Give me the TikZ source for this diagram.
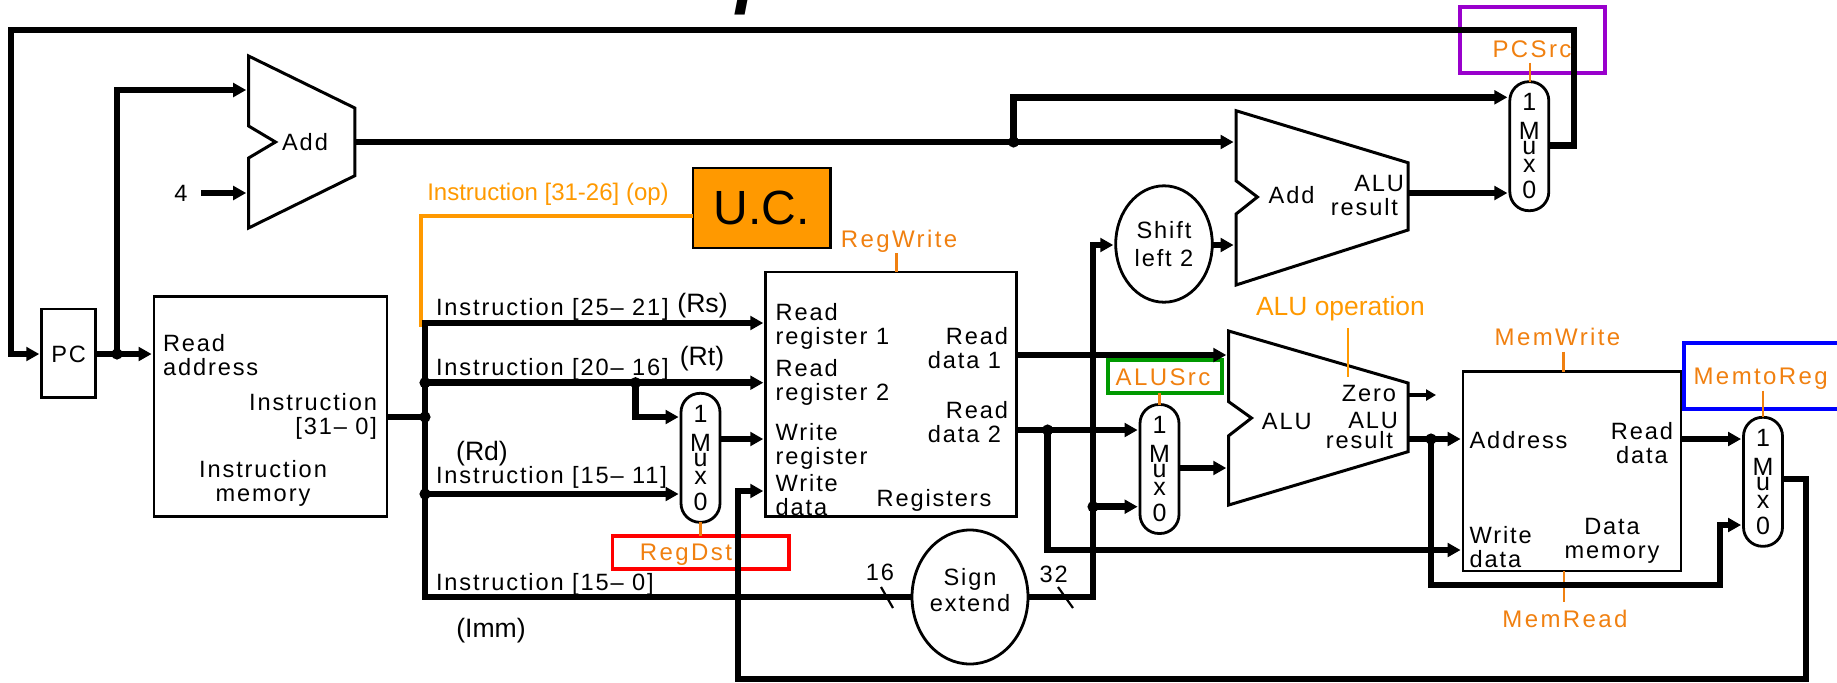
\documentclass[tikz,border=0pt]{standalone}
\usepackage{fontspec}
\setmainfont{Liberation Sans}
\newfontfamily\lab[LetterSpace=8]{Liberation Sans}
\newfontfamily\ctl[LetterSpace=10]{Liberation Sans}
\usetikzlibrary{arrows.meta,shapes.geometric}
\definecolor{ctrlor}{RGB}{240,128,16}
\definecolor{lightor}{RGB}{255,153,0}
\definecolor{purp}{RGB}{153,0,204}
\definecolor{grn}{RGB}{0,153,0}
\tikzset{
  x=0.5pt,y=-0.5pt,
  bx/.style 2 args={minimum width=#1*0.5pt,minimum height=#2*0.5pt},
  box/.style={draw=black,line width=1.4pt,inner sep=0pt,outer sep=0pt,rectangle},
  muxbox/.style={draw=black,line width=1.4pt,inner sep=0pt,outer sep=0pt,rectangle,rounded corners=9.5pt,
     minimum width=19.5pt,minimum height=64.5pt,align=center,font=\fontsize{12.5}{12}\selectfont},
  oval/.style={draw=black,line width=1.4pt,inner sep=0pt,outer sep=0pt,ellipse,align=center,font=\lab\fontsize{11.8}{13}\selectfont},
  trap/.style={draw=black,line width=1.5pt,line join=miter},
  bus/.style={draw=black,line width=3.3pt,line join=miter},
  arr/.style={bus,-{Triangle[length=6.5pt,width=6.8pt]},shorten >=1.2pt},
  thinarr/.style={draw=black,line width=1.7pt,-{Triangle[length=5pt,width=5.5pt]}},
  dot/.style={circle,fill=black,inner sep=0pt,minimum size=5.6pt,outer sep=0pt},
  slash/.style={draw=black,line width=1.1pt},
  txt/.style={inner sep=0pt,outer sep=0pt,font=\lab\fontsize{11.8}{12}\selectfont,align=left},
  one/.style={txt,text height=8.4pt,text depth=0pt},
  rawt/.style={inner sep=0pt,outer sep=0pt,text height=9.5pt,text depth=0pt,font=\fontsize{13.3}{14}\selectfont},
  ctltxt/.style={inner sep=0pt,outer sep=0pt,text height=8.6pt,text depth=0pt,text=ctrlor,font=\ctl\fontsize{12}{12}\selectfont},
  ltxt/.style={inner sep=0pt,outer sep=0pt,text height=8.6pt,text depth=0pt,text=lightor,font=\fontsize{12}{12}\selectfont},
  ctrlline/.style={draw=ctrlor,line width=1.3pt},
  ltline/.style={draw=lightor,line width=1.7pt},
  hilite/.style={draw=#1,line width=1.9pt,inner sep=0pt,outer sep=0pt,rectangle},
}
\begin{document}
\begin{tikzpicture}
\useasboundingbox (0,0) rectangle (1837,682);
% title, cut by the top edge
\node[inner sep=0pt,anchor=base west,font=\fontsize{37.5}{40}\selectfont\bfseries\itshape] (title) at (574,-0.5) {Datapath de MIPS};
% coloured highlight frames
\node[hilite=purp,bx={145}{65.7}] (fpc) at (1532.5,39.8) {};
\node[hilite=grn,bx={113.6}{33}] (falu) at (1164.8,376.5) {};
\node[hilite=red,bx={176.5}{33.3}] (freg) at (700.7,552.3) {};
\node[hilite=blue,bx={180}{66}] (fmem) at (1774,376) {};
% boxes
\node[box,bx={54}{88.7}] (pc) at (68.7,353.3) {};
\node[box,bx={233}{220}] (imem) at (270.5,406.8) {};
\node[box,fill=lightor,bx={137.6}{80},font=\fontsize{24}{24}\selectfont] (uc) at (761.8,208) {U.C.};
\node[box,bx={251}{244.7}] (regs) at (891.2,394.3) {};
\node[box,bx={218}{199.3}] (dmem) at (1572,471.3) {};
% adders and ALU
\draw[trap] (248.6,56) -- (354.8,108) -- (354.8,175.7) -- (248.6,228) -- (248.6,158) -- (275.5,142) -- (248.6,126) -- cycle;
\draw[trap] (1236,110.7) -- (1408,162.7) -- (1408,230) -- (1236,285) -- (1236,214) -- (1257.4,197) -- (1236,180.7) -- cycle;
\draw[trap] (1228.7,331) -- (1408,383) -- (1408,451.7) -- (1228.7,505) -- (1228.7,435.7) -- (1251.5,418) -- (1228.7,401.7) -- cycle;
\coordinate (a1up) at (248.6,90);
\coordinate (a1lo) at (248.6,193);
\coordinate (a1out) at (354.8,142);
\coordinate (a2up) at (1236,142);
\coordinate (a2lo) at (1236,245);
\coordinate (a2out) at (1408,193);
\coordinate (alu1) at (1228.7,355);
\coordinate (alu2) at (1228.7,468);
\coordinate (aluz) at (1408,395);
\coordinate (alur) at (1408,439);
% ovals
\node[oval,minimum width=58pt,minimum height=67pt] (sign) at (970,597) {};
\node[oval,minimum width=48.3pt,minimum height=58.2pt] (shift) at (1164,244) {Shift\\[1pt]left 2};
% multiplexers
\def\muxtext{1\\[2.5pt]M\\[-4.3pt]u\\[-3pt]x\\[0.9pt]0}
\node[muxbox] (ma) at (700.5,457.8) {\muxtext};
\node[muxbox] (mb) at (1159.5,469) {\muxtext};
\node[muxbox] (mc) at (1529.3,146.2) {\muxtext};
\node[muxbox] (md) at (1763,481.8) {\muxtext};
% junctions
\node[dot] (jpc) at (117,354) {};
\node[dot] (j20) at (425,382.7) {};
\node[dot] (j31) at (425,417) {};
\node[dot] (j15) at (425,494) {};
\node[dot] (jrt) at (635.5,382.7) {};
\node[dot] (jadd) at (1013.6,142) {};
\node[dot] (jrd2) at (1047.6,430) {};
\node[dot] (jext) at (1093,506.7) {};
\node[dot] (jres) at (1431,439) {};
% way points
\coordinate (jtop) at (425,323);
\coordinate (jimm) at (425,597);
\coordinate (rtb) at (635.5,417);
\coordinate (upadd) at (1013.6,97.3);
\coordinate (fb1) at (1574,145.7);
\coordinate (fb2) at (1574,30);
\coordinate (fb3) at (11,30);
\coordinate (fb4) at (11,354);
\coordinate (p4a) at (117,90);
\coordinate (fouro) at (201,193);
\coordinate (wb1) at (1806,479);
\coordinate (wb2) at (1806,679);
\coordinate (wb3) at (738,679);
\coordinate (wb4) at (738,491);
\coordinate (ext1) at (1093,597);
\coordinate (ext2) at (1093,245);
\coordinate (rd2a) at (1047.6,550);
\coordinate (res1) at (1431,585);
\coordinate (res2) at (1720,585);
\coordinate (res3) at (1720,525);
\coordinate (opb) at (421,327);
\coordinate (opc) at (421,216);
\coordinate (wr1) at (896.7,253);
\coordinate (mw1) at (1563.5,351.7);
\coordinate (mr1) at (1564,601.7);
\coordinate (aop1) at (1348,328);
\coordinate (aop2) at (1348,376.7);
\coordinate (pcs1) at (1530,62.7);
\coordinate (m2r1) at (1763,390.7);
\coordinate (s16a) at (881,587);
\coordinate (s16b) at (893,608);
\coordinate (s32a) at (1058,587);
\coordinate (s32b) at (1073,608);
\coordinate (mawr) at (720,439);
% control lines
\draw[ltline] (uc.west |- opc) -- (opc) -- (opb);
\draw[ctrlline] (wr1) -- (wr1 |- regs.north);
\draw[ctrlline] (mw1) -- (mw1 |- dmem.north);
\draw[ctrlline] (mr1) -- (mr1 |- dmem.south);
\draw[ltline,line width=1pt] (aop1) -- (aop2);
\draw[ctrlline] (pcs1) -- (pcs1 |- mc.north);
\draw[ctrlline] (falu.south -| mb.north) -- (mb.north);
\draw[ctrlline] (ma.south) -- (ma.south |- freg.north);
\draw[ctrlline] (m2r1) -- (md.north);
% data connectors
\draw[arr] (pc.east |- jpc) -- (imem.west |- jpc);
\draw[arr] (jpc.center) -- (p4a) -- (a1up);
\draw[arr] (fouro) -- (a1lo);
\draw[arr] (mc.east |- fb1) -- (fb1) -- (fb2) -- (fb3) -- (fb4) -- (pc.west |- fb4);
\draw[arr] (a1out) -- (a2up);
\draw[arr] (jadd.center) -- (upadd) -- (mc.west |- upadd);
\draw[arr] (a2out) -- (mc.west |- a2out);
\draw[bus] (imem.east |- j31) -- (j31.center);
\draw[arr] (sign.west |- jimm) -- (jimm) -- (jtop) -- (regs.west |- jtop);
\draw[arr] (j20.center) -- (regs.west |- j20);
\draw[arr] (jrt.center) -- (rtb) -- (ma.west |- rtb);
\draw[arr] (j15.center) -- (ma.west |- j15);
\draw[arr] (ma.east |- mawr) -- (regs.west |- mawr);
\draw[arr] (md.east |- wb1) -- (wb1) -- (wb2) -- (wb3) -- (wb4) -- (regs.west |- wb4);
\draw[arr] (sign.east |- ext1) -- (ext1) -- (ext2) -- (shift.west |- ext2);
\draw[arr] (shift.east |- a2lo) -- (a2lo);
\draw[arr] (regs.east |- alu1) -- (alu1);
\draw[arr] (regs.east |- jrd2) -- (mb.west |- jrd2);
\draw[arr] (jrd2.center) -- (rd2a) -- (dmem.west |- rd2a);
\draw[arr] (jext.center) -- (mb.west |- jext);
\draw[arr] (mb.east |- alu2) -- (alu2);
\coordinate (zero) at (1436,395);
\draw[thinarr] (aluz) -- (zero);
\draw[arr] (alur) -- (dmem.west |- alur);
\draw[arr] (jres.center) -- (res1) -- (res2) -- (res3) -- (md.west |- res3);
\draw[arr] (dmem.east |- alur) -- (md.west |- alur);
\draw[slash] (s16a) -- (s16b);
\draw[slash] (s32a) -- (s32b);
% texts
\node[one] (t4) at (181,193) {4};
\node[one] (tadd1) at (305,142) {Add};
\node[one] (tpc) at (68.7,354) {PC};
\node[ltxt] (top) at (548,192) {Instruction [31-26] (op)};
\node[txt,anchor=west] (traddr) at (163,355.4) {Read\\address};
\node[txt,anchor=east,align=right] (ti31) at (377,416) {Instruction\\{[31– 0]}};
\node[txt,align=center] (tim) at (263,483) {Instruction\\memory};
\node[one,anchor=west] (t25) at (436,306.7) {Instruction [25– 21]};
\node[one,anchor=west] (t20) at (436,366.7) {Instruction [20– 16]};
\node[one,anchor=west] (t1511) at (436,475) {Instruction [15– 11]};
\node[one,anchor=west] (t150) at (436,581.7) {Instruction [15– 0]};
\node[rawt] (trs) at (702.5,303) {(Rs)};
\node[rawt] (trt) at (702,356) {(Rt)};
\node[rawt] (trd) at (482,451) {(Rd)};
\node[rawt] (timm) at (491,628) {(Imm)};
\node[one] (t16) at (880,572) {16};
\node[one] (t32) at (1053.6,574) {32};
\node[txt,anchor=west] (trr1) at (775.7,326.5) {Read\\register 1};
\node[txt,anchor=west] (trr2) at (775.7,382) {Read\\register 2};
\node[txt,anchor=west] (twr) at (775.7,446) {Write\\register};
\node[txt,anchor=west] (twd) at (775.7,495.5) {Write\\data};
\node[one] (tregs) at (934,497.7) {Registers};
\node[txt,anchor=east,align=right] (trd1) at (1008,348) {Read\\data 1\rule{3.5pt}{0pt}};
\node[txt,anchor=east,align=right] (trd2) at (1008,422) {Read\\data 2\rule{3.5pt}{0pt}};
\node[txt,anchor=east,align=right] (tadd2r) at (1404,195) {ALU\\result\rule{3pt}{0pt}};
\node[one] (tadd2) at (1291.5,195) {Add};
\node[one] (talu) at (1286.7,420.7) {ALU};
\node[one] (tzero) at (1369,393) {Zero};
\node[txt,anchor=east,align=right] (talur) at (1398,430) {ALU\\[-2pt]result\rule{2.5pt}{0pt}};
\node[one,anchor=west] (taddr) at (1469.6,440) {Address};
\node[txt,anchor=west] (twd2) at (1469.6,547) {Write\\data};
\node[txt,align=center] (tdm) at (1612,541) {Data\\memory};
\node[txt,align=center] (trdm) at (1642,443) {Read\\data};
\node[txt,align=center] (tsign) at (970,590) {Sign\\[1pt]extend};
% control labels
\node[ctltxt] (lwr) at (899,239) {RegWrite};
\node[ctltxt] (lmw) at (1557.5,337) {MemWrite};
\node[ctltxt] (lmr) at (1565,619) {MemRead};
\node[ctltxt] (lpcs) at (1532,49) {PCSrc};
\node[ctltxt] (lalus) at (1163,377) {ALUSrc};
\node[ctltxt] (lrd) at (686,551.7) {RegDst};
\node[ctltxt] (lm2r) at (1760.7,376) {MemtoReg};
\node[ltxt,font=\fontsize{13.2}{13}\selectfont] (laop) at (1340.5,307) {ALU operation};
\end{tikzpicture}
\end{document}
